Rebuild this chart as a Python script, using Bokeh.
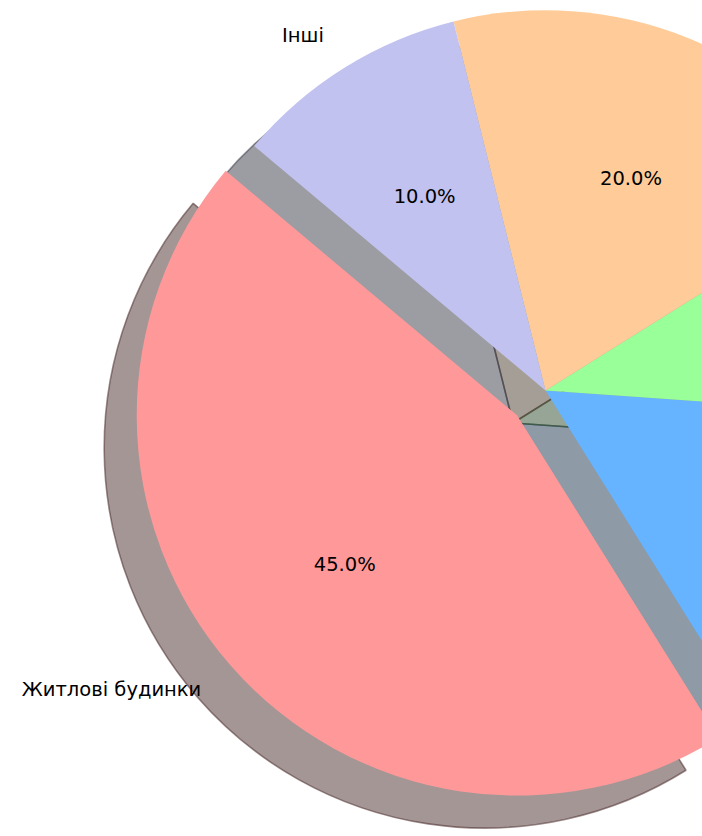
import numpy as np
from bokeh.plotting import figure
from bokeh.models import Range1d, ColumnDataSource
from bokeh.embed import file_html
from bokeh.resources import INLINE
from bokeh.core.properties import value

# Data
labels = ["Житлові будинки", "", "", "", "Інші"]
sizes = [45, 15, 10, 20, 10]
colors = ["#ff9999", "#66b3ff", "#99ff99", "#ffcc99", "#c2c2f0"]
explode = [0.1, 0, 0, 0, 0]
start_angle = 140

# Geometry (pie of radius ~1, like matplotlib)
radius = 1.006
shadow_off = (-0.086, -0.086)
pct_dist = 0.6
label_dist = 1.1

frac = np.array(sizes, dtype=float) / sum(sizes)
theta1 = start_angle + 360 * np.concatenate([[0.0], np.cumsum(frac)[:-1]])
theta2 = theta1 + 360 * frac
mid = np.deg2rad((theta1 + theta2) / 2)
cx = np.array(explode) * np.cos(mid)
cy = np.array(explode) * np.sin(mid)


def shade(hexcol, k=0.3):
    h = hexcol.lstrip("#")
    r, g, b = (int(h[i:i + 2], 16) for i in (0, 2, 4))
    return "#%02x%02x%02x" % (int(r * k), int(g * k), int(b * k))


shadow_colors = [shade(c) for c in colors]

x0, x1 = -1.4418, 0.4153
y0, y1 = -1.1799, 1.0317

p = figure(width=702, height=836, output_backend="svg", toolbar_location=None,
           x_range=Range1d(x0, x1), y_range=Range1d(y0, y1),
           min_border=0)
p.axis.visible = False
p.grid.visible = False
p.outline_line_color = None
p.background_fill_color = "white"

wsrc = ColumnDataSource(dict(
    x=cx, y=cy, sx=cx + shadow_off[0], sy=cy + shadow_off[1],
    s=np.deg2rad(theta1), e=np.deg2rad(theta2),
    color=colors, scolor=shadow_colors,
))

# shadows
p.wedge(x="sx", y="sy", radius=radius, start_angle="s", end_angle="e",
        direction="anticlock", source=wsrc,
        fill_color="scolor", fill_alpha=0.5,
        line_color="scolor", line_alpha=0.55, line_width=1.6)
# wedges
p.wedge(x="x", y="y", radius=radius, start_angle="s", end_angle="e",
        direction="anticlock", source=wsrc,
        fill_color="color", line_color=None)

# percentage texts
pct_text = ["%.1f%%" % (f * 100) for f in frac]
px = cx + pct_dist * radius * np.cos(mid)
py = cy + pct_dist * radius * np.sin(mid)
keep = [i for i in range(len(sizes)) if x0 < px[i] - 0.08 and px[i] + 0.08 < x1]
p.text(x=[px[i] for i in keep], y=[py[i] for i in keep],
       text=[pct_text[i] for i in keep],
       text_font=value("DejaVu Sans"), text_font_size="19.5px",
       text_color="black", text_align="center", text_baseline="middle")

# category labels
lx = cx + label_dist * radius * np.cos(mid)
ly = cy + label_dist * radius * np.sin(mid)
for i, lab in enumerate(labels):
    if not lab:
        continue
    p.text(x=[lx[i]], y=[ly[i]], text=[lab],
           text_font=value("DejaVu Sans"), text_font_size="19.5px",
           text_color="black",
           text_align="right" if lx[i] < 0 else "left",
           text_baseline="middle")

open("out.html", "w").write(file_html(p, INLINE))
